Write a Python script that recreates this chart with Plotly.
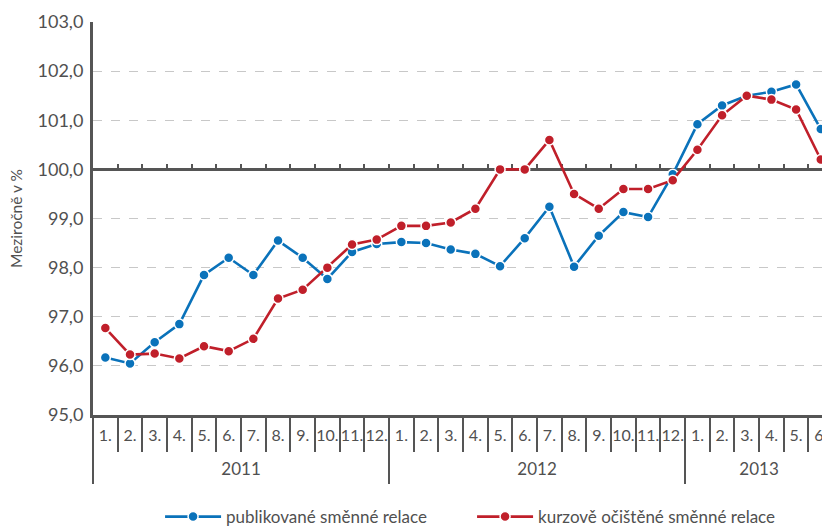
import plotly.graph_objects as go

# ---- data ----
months = [f"{m}." for m in range(1, 13)] * 2 + [f"{m}." for m in range(1, 7)]
years = ["2011", "2012", "2013"]
year_sizes = [12, 12, 6]

publikovane = [96.17, 96.05, 96.48, 96.85, 97.85, 98.20, 97.85, 98.55, 98.20, 97.77, 98.32, 98.48,
               98.52, 98.50, 98.37, 98.28, 98.03, 98.60, 99.24, 98.02, 98.65, 99.13, 99.03, 99.90,
               100.92, 101.30, 101.50, 101.58, 101.73, 100.82]
ocistene = [96.77, 96.23, 96.25, 96.15, 96.40, 96.30, 96.55, 97.37, 97.55, 98.00, 98.47, 98.57,
            98.85, 98.85, 98.92, 99.20, 100.00, 100.00, 100.60, 99.50, 99.20, 99.60, 99.60, 99.78,
            100.40, 101.10, 101.50, 101.42, 101.22, 100.20]

y_ticks = [95, 96, 97, 98, 99, 100, 101, 102, 103]

x = list(range(len(months)))

# year boundaries and centers (category index space)
bounds = [-0.5]
for s in year_sizes:
    bounds.append(bounds[-1] + s)
year_centers = [(bounds[i] + bounds[i + 1]) / 2 for i in range(len(years))]

XR = [-0.5, 29.05]
AX = "#555555"
TXT = "#505050"
FONT = "Lato, 'Open Sans', sans-serif"

fig = go.Figure()
fig.add_trace(go.Scatter(
    x=x, y=publikovane, mode="lines+markers", name="publikované směnné relace",
    line=dict(color="#0a72ba", width=2.6),
    marker=dict(size=10, color="#0a72ba", line=dict(color="white", width=1.5)),
))
fig.add_trace(go.Scatter(
    x=x, y=ocistene, mode="lines+markers", name="kurzově očištěné směnné relace",
    line=dict(color="#c01f2a", width=2.6),
    marker=dict(size=10, color="#c01f2a", line=dict(color="white", width=1.5)),
))

fig.update_layout(
    width=822, height=526,
    margin=dict(l=93, r=0, t=22, b=111, autoexpand=False),
    paper_bgcolor="white", plot_bgcolor="white",
    separators=", ",
    font=dict(family=FONT, color=TXT, size=14),
    showlegend=True,
    legend=dict(orientation="h", xref="paper", yref="container",
                x=0.092, xanchor="left", y=0.017, yanchor="middle",
                font=dict(size=17, color=TXT), entrywidth=241, itemwidth=56,
                bgcolor="rgba(0,0,0,0)"),
    yaxis=dict(range=[95, 103], tickvals=y_ticks, tickformat=".1f",
               showgrid=True, gridcolor="#c8c8c8", griddash="dash", gridwidth=1,
               showline=True, linecolor=AX, linewidth=3, ticks="", automargin=False,
               tickfont=dict(size=18, color=TXT), ticklabelstandoff=3,
               title=dict(text="Meziročně v %", font=dict(size=15.5, color=TXT), standoff=12),
               zeroline=False),
    # main bottom axis: year separators (major) + month separators (minor)
    xaxis=dict(range=XR, tickvals=bounds, ticks="outside", ticklen=66, tickwidth=2,
               tickcolor=AX, showticklabels=False, showgrid=False, zeroline=False,
               showline=True, linecolor=AX, linewidth=3, automargin=False,
               minor=dict(tick0=-0.5, dtick=1, ticks="outside", ticklen=34,
                          tickwidth=2, tickcolor=AX, showgrid=False)),
    # month labels
    xaxis2=dict(range=XR, overlaying="x", anchor="y", side="bottom",
                tickvals=x, ticktext=months, ticks="", showgrid=False, zeroline=False,
                showline=False, tickfont=dict(size=16, color=TXT), automargin=False,
                ticklabelstandoff=9, ticklabeloverflow="allow"),
    # year labels
    xaxis3=dict(range=XR, overlaying="x", anchor="y", side="bottom",
                tickvals=year_centers, ticktext=years, ticks="", showgrid=False,
                zeroline=False, showline=False, tickfont=dict(size=17, color=TXT),
                automargin=False, ticklabelstandoff=42, ticklabeloverflow="allow"),
    # 100 % baseline with small ticks
    xaxis4=dict(range=XR, overlaying="x", anchor="free", position=0.625, side="bottom",
                tick0=-0.5, dtick=1, ticks="inside", ticklen=4, tickwidth=2, tickcolor=AX,
                showticklabels=False, showgrid=False, zeroline=False, automargin=False,
                showline=True, linecolor=AX, linewidth=3, layer="below traces"),
)

# dummy invisible traces to activate overlay axes
for ax in ["x2", "x3", "x4"]:
    fig.add_trace(go.Scatter(x=[XR[0]], y=[None], xaxis=ax, showlegend=False,
                             hoverinfo="skip", mode="markers", marker=dict(opacity=0)))

fig.write_html("out.html", config={"displayModeBar": False},
               post_script="document.body.style.margin='0';document.body.style.overflow='hidden';")
